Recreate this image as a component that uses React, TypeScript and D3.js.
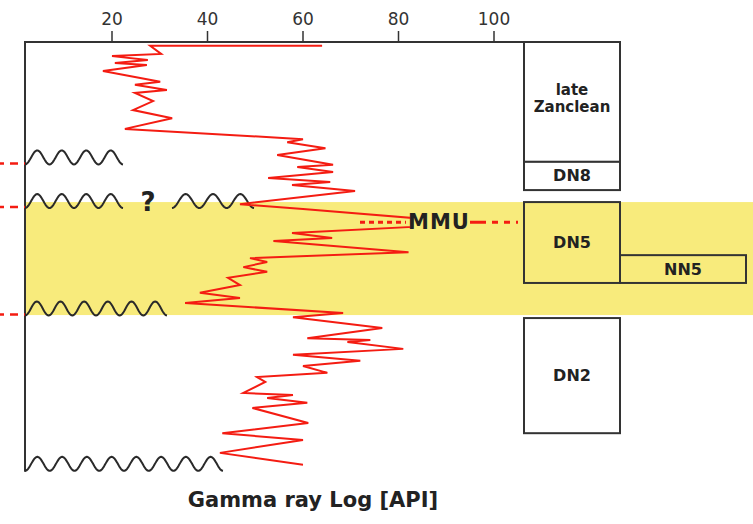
import React from "react";
import * as d3 from "d3";

// ---- data ----
const gammaApi = [64.0, 28.0, 30.3, 20.0, 27.5, 20.6, 27.3, 18.1, 30.1, 24.8, 31.5, 24.8, 28.6, 24.4, 32.6, 22.7, 60.0, 56.7, 64.7, 54.6, 66.3, 58.8, 66.3, 52.7, 65.7, 57.7, 70.9, 46.8, 55.2, 60.0, 82.9, 82.9, 57.7, 66.1, 53.8, 82.1, 48.9, 52.5, 47.5, 52.5, 44.3, 46.8, 38.4, 46.8, 35.3, 68.4, 57.9, 76.6, 60.9, 74.1, 69.3, 81.0, 57.9, 72.0, 60.0, 65.1, 50.4, 52.1, 47.5, 57.9, 52.5, 60.9, 49.4, 61.1, 43.1, 60.0, 42.6, 60.0];
const depths = [0.9, 0.9, 2.8, 3.3, 4.2, 4.9, 5.4, 6.8, 9.3, 10.0, 11.2, 11.9, 13.8, 15.9, 17.8, 20.3, 22.7, 23.4, 24.8, 26.4, 28.7, 29.2, 30.4, 31.8, 32.7, 33.4, 34.8, 37.9, 38.6, 39.0, 41.1, 43.2, 44.6, 45.8, 46.5, 49.1, 50.5, 51.4, 52.6, 53.7, 55.1, 56.8, 58.6, 59.8, 61.0, 63.3, 64.3, 66.8, 69.2, 69.6, 70.1, 71.7, 73.1, 74.5, 75.7, 77.3, 78.3, 79.4, 82.0, 82.5, 83.2, 84.3, 85.5, 89.0, 91.4, 93.0, 96.0, 98.8];
const xTicks = [20, 40, 60, 80, 100];

// biostratigraphic zones (depth units)
const zoneNames = ["late|Zanclean", "DN8", "DN5", "DN2"];
const zoneTops = [0, 28.0, 37.4, 64.5];
const zoneBases = [28.0, 34.6, 56.3, 91.4];
const nnZoneName = "NN5";
const nnZoneTop = 49.8;
const nnZoneBase = 56.3;

// highlighted (yellow) interval
const bandTop = 37.4;
const bandBase = 63.8;

// unconformities
const unconfDepths = [28.6, 38.8, 63.9, 100.2];
const mmuDepth = 42.1;

const W = 753;
const H = 524;

export default function App() {
  const x = d3.scaleLinear().domain([20, 100]).range([112, 494]);
  const y = d3.scaleLinear().domain([0, 100]).range([42, 470]);

  const axisLeft = 25;
  const colL = 524;
  const colR = 620;
  const nnR = 746;
  const stroke = "#333";
  const red = "#f41c12";
  const font = "'DejaVu Sans', Verdana, sans-serif";

  const line = d3
    .line<number>()
    .x((d) => x(d))
    .y((_, i) => y(depths[i]));

  const wave = (x0: number, x1: number, yb: number, n: number, amp = 14) => {
    const pts: [number, number][] = [];
    const steps = n * 30;
    for (let i = 0; i <= steps; i++) {
      const t = i / steps;
      const xx = x0 + (x1 - x0) * t;
      const yy = yb - (amp * (1 - Math.cos(2 * Math.PI * n * t))) / 2;
      pts.push([xx, yy]);
    }
    return d3.line()(pts) || "";
  };

  const waveSegs: [number, number, number, number][] = [
    [axisLeft, 123, y(unconfDepths[0]), 4],
    [axisLeft, 123, y(unconfDepths[1]), 4],
    [172, 254, y(unconfDepths[1]), 3],
    [axisLeft, 167, y(unconfDepths[2]), 6],
    [axisLeft, 223, y(unconfDepths[3]), 8],
  ];

  const leftDashDepths = [unconfDepths[0], unconfDepths[1], unconfDepths[2]];

  return (
    <svg
      width={W}
      height={H}
      style={{ position: "absolute", left: 0, top: 0, background: "#fff" }}
      fontFamily={font}
    >
      {/* yellow band */}
      <rect x={axisLeft} y={y(bandTop)} width={W - axisLeft} height={y(bandBase) - y(bandTop)} fill="#f8eb7c" />

      {/* zone boxes */}
      {zoneNames.map((name, i) => {
        const y0 = y(zoneTops[i]);
        const y1 = y(zoneBases[i]);
        const inBand = zoneTops[i] >= bandTop && zoneBases[i] <= bandBase;
        const lines = name.split("|");
        const cy = (y0 + y1) / 2 - (lines.length > 1 ? 3 : 0);
        return (
          <g key={name}>
            <rect x={colL} y={y0} width={colR - colL} height={y1 - y0} fill={inBand ? "none" : "#fff"} stroke={stroke} strokeWidth={2} />
            {lines.map((ln, j) => (
              <text
                key={j}
                x={(colL + colR) / 2}
                y={cy + (j - (lines.length - 1) / 2) * 17}
                textAnchor="middle"
                dominantBaseline="central"
                fontWeight="bold"
                fontSize={lines.length > 1 ? 15 : 16}
                fill="#222"
              >
                {ln}
              </text>
            ))}
          </g>
        );
      })}
      <rect x={colR} y={y(nnZoneTop)} width={nnR - colR} height={y(nnZoneBase) - y(nnZoneTop)} fill="none" stroke={stroke} strokeWidth={2} />
      <text x={(colR + nnR) / 2} y={(y(nnZoneTop) + y(nnZoneBase)) / 2} textAnchor="middle" dominantBaseline="central" fontWeight="bold" fontSize={16} fill="#222">
        {nnZoneName}
      </text>

      {/* axes */}
      <line x1={axisLeft} x2={colR} y1={y(0)} y2={y(0)} stroke={stroke} strokeWidth={2} />
      <line x1={axisLeft} x2={axisLeft} y1={y(0) - 1} y2={y(unconfDepths[3]) + 1} stroke={stroke} strokeWidth={2} />
      {xTicks.map((t) => (
        <g key={t}>
          <line x1={x(t)} x2={x(t)} y1={y(0) - 11} y2={y(0)} stroke={stroke} strokeWidth={1.5} />
          <text x={x(t)} y={25} textAnchor="middle" fontSize={17} fill="#333">
            {t}
          </text>
        </g>
      ))}

      {/* unconformities */}
      {waveSegs.map(([a, b, yb, n], i) => (
        <path key={i} d={wave(a, b, yb, n)} fill="none" stroke="#2a2a2a" strokeWidth={2} strokeLinejoin="round" />
      ))}
      {leftDashDepths.map((d, i) => (
        <line key={i} x1={0} x2={axisLeft} y1={y(d) - 1} y2={y(d) - 1} stroke={red} strokeWidth={2.5} strokeDasharray="8 6" strokeDashoffset={4} />
      ))}
      <text x={148} y={y(unconfDepths[1]) - 6} textAnchor="middle" dominantBaseline="central" fontWeight="bold" fontSize={26} fill="#222">
        ?
      </text>

      {/* gamma ray curve */}
      <path d={line(gammaApi) || ""} fill="none" stroke={red} strokeWidth={2} strokeLinejoin="miter" />

      {/* MMU */}
      <line x1={360} x2={406} y1={y(mmuDepth)} y2={y(mmuDepth)} stroke={red} strokeWidth={3} strokeDasharray="5 4" />
      <line x1={470} x2={518} y1={y(mmuDepth)} y2={y(mmuDepth)} stroke={red} strokeWidth={3} strokeDasharray="16 6 6 6 6 6" />
      <text x={408} y={y(mmuDepth)} dominantBaseline="central" fontWeight="bold" fontSize={21} fill="#222" letterSpacing={1}>
        MMU
      </text>

      {/* x label */}
      <text x={313} y={507} textAnchor="middle" fontWeight="bold" fontSize={21} fill="#222">
        Gamma ray Log [API]
      </text>
    </svg>
  );
}
